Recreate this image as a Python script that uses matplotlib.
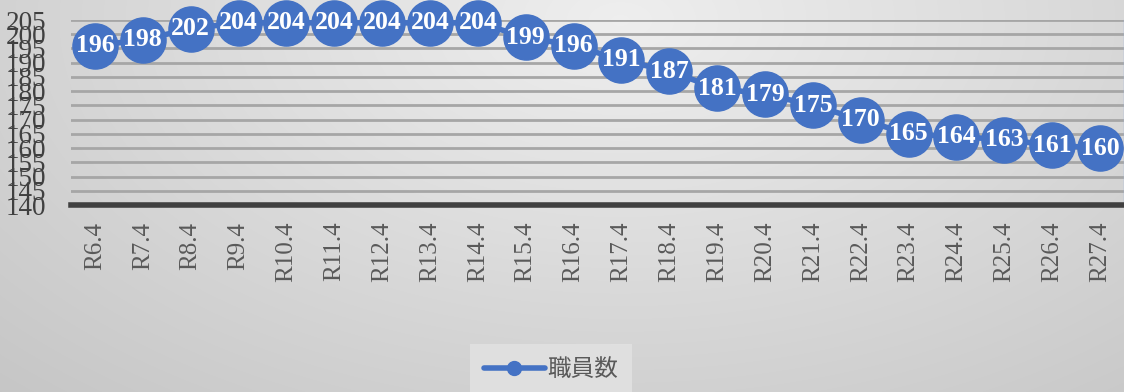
import numpy as np
import matplotlib
matplotlib.use("Agg")
import matplotlib.pyplot as plt
from matplotlib.lines import Line2D

categories = ["R6.4", "R7.4", "R8.4", "R9.4", "R10.4", "R11.4", "R12.4", "R13.4",
              "R14.4", "R15.4", "R16.4", "R17.4", "R18.4", "R19.4", "R20.4", "R21.4",
              "R22.4", "R23.4", "R24.4", "R25.4", "R26.4", "R27.4"]
staff = [196, 198, 202, 204, 204, 204, 204, 204, 204, 199, 196, 191, 187, 181,
         179, 175, 170, 165, 164, 163, 161, 160]
yticks = list(range(140, 206, 5))
series_name = "職員数"

blue = "#4472C4"
serif = ["Liberation Serif", "DejaVu Serif"]

fig = plt.figure(figsize=(11.24, 3.92), dpi=100)

# soft radial gradient background
bg = fig.add_axes([0, 0, 1, 1], zorder=-10)
h, w = 392, 1124
yy, xx = np.mgrid[0:h, 0:w]
d = np.sqrt(((xx - 620) / 900.0) ** 2 + ((yy - 20) / 520.0) ** 2)
d = np.clip(d, 0, 1)
val = 0.935 - 0.16 * d
img = np.dstack([val, val, val])
bg.imshow(img, aspect="auto", extent=[0, w, h, 0])
bg.set_xlim(0, w)
bg.set_ylim(h, 0)
bg.axis("off")

ax = fig.add_axes([71 / 1124, 1 - 205 / 392, 1053 / 1124, 185 / 392])
ax.patch.set_alpha(0)
x = np.arange(len(categories))
ax.plot(x, staff, color=blue, lw=4, marker="o", ms=32.5, mfc=blue, mec=blue,
        clip_on=False, zorder=5, solid_capstyle="round")
for xi, v in zip(x, staff):
    ax.text(xi, v, str(v), ha="center", va="center", color="white",
            fontsize=18.5, fontweight="bold", family=serif, zorder=6, clip_on=False)

ax.set_xlim(-0.5, len(categories) - 0.5)
ax.set_ylim(140, 205)
ax.set_yticks(yticks)
ax.set_yticklabels([str(t) for t in yticks], family=serif, fontsize=19.5, color="#404040")
ax.set_xticks(x)
ax.set_xticklabels(categories, rotation=90, family=serif, fontsize=18, color="#595959",
                   va="top")
ax.tick_params(axis="both", length=0)
ax.tick_params(axis="y", pad=18)
ax.tick_params(axis="x", pad=12)
for t in ax.get_yticklabels():
    t.set_horizontalalignment("right")
ax.grid(axis="y", color="#a6a6a6", lw=2)
ax.set_axisbelow(True)
for s in ["top", "left"]:
    ax.spines[s].set_visible(False)
ax.spines["right"].set_color("#9fb6e0")
ax.spines["right"].set_linewidth(1)
ax.spines["bottom"].set_color("#404040")
ax.spines["bottom"].set_linewidth(4)

handle = Line2D([0], [0], color=blue, lw=4, marker="o", ms=10, solid_capstyle="round")
leg = fig.legend([handle], [series_name], loc="center", bbox_to_anchor=(551 / 1124, 1 - 370 / 392),
                 frameon=True, handlelength=2.6, handletextpad=0.1,
                 prop={"family": ["Noto Sans CJK JP", "DejaVu Sans"], "size": 17})
leg.get_frame().set_facecolor("#e3e3e3")
leg.get_frame().set_edgecolor("none")
leg.get_frame().set_boxstyle("square", pad=0.2)
for t in leg.get_texts():
    t.set_color("#595959")

fig.savefig("out.png", dpi=100)
